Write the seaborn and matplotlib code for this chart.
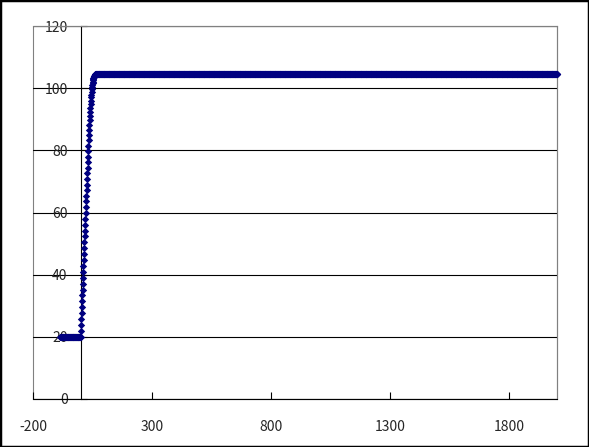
import numpy as np
import pandas as pd
import matplotlib
matplotlib.use("Agg")
import matplotlib.pyplot as plt
from matplotlib.patches import Rectangle
import seaborn as sns

sns.set_style("white")
plt.rcParams['font.family'] = ['Noto Sans CJK JP', 'DejaVu Sans']
plt.rcParams['axes.unicode_minus'] = False

# values
start_temp = 20.0
plateau_temp = 104.5
pre_x = list(range(-85, 0))
rise_x = list(range(0, 63))
rise_y = [20.0, 21.9, 23.8, 25.7, 27.6, 29.5, 31.4, 33.3, 35.2, 37.1,
          39.0, 40.9, 42.8, 44.7, 46.6, 48.5, 50.4, 52.3, 54.2, 56.1,
          58.0, 59.9, 61.8, 63.6, 65.4, 67.2, 69.0, 70.8, 72.6, 74.4,
          76.2, 78.0, 79.8, 81.5, 83.2, 84.9, 86.5, 88.1, 89.6, 91.0,
          92.4, 93.7, 94.9, 96.0, 97.0, 97.9, 98.8, 99.6, 100.3, 101.0,
          101.6, 102.1, 102.5, 102.9, 103.2, 103.5, 103.7, 103.9, 104.0, 104.1,
          104.2, 104.3, 104.4]
plateau_x = list(range(63, 2001))
x_ticks = [-200, 300, 800, 1300, 1800]
y_ticks = [0, 20, 40, 60, 80, 100, 120]

df = pd.DataFrame({
    "time": pre_x + rise_x + plateau_x,
    "temp": [start_temp] * len(pre_x) + rise_y + [plateau_temp] * len(plateau_x),
})

fig = plt.figure(figsize=(5.89, 4.47), dpi=100)
ax = fig.add_axes([33 / 589, 48 / 447, 524 / 589, 373 / 447])

ax.set_xlim(-200, 2000)
ax.set_ylim(0, 120)
ax.set_xticks(x_ticks)
ax.set_yticks(y_ticks)

ax.yaxis.grid(True, color="black", lw=0.8)
ax.xaxis.grid(False)

sns.scatterplot(data=df, x="time", y="temp", marker="D", s=14, color="#000080",
                edgecolor="#000080", linewidth=0, legend=False, clip_on=False,
                zorder=3, ax=ax)
ax.set_xlabel("")
ax.set_ylabel("")

# y axis crosses at x = 0, plot area border in gray
ax.spines["left"].set_position(("data", 0))
ax.spines["left"].set_color("black")
ax.spines["left"].set_linewidth(0.8)
ax.spines["bottom"].set_color("black")
ax.spines["bottom"].set_linewidth(0.8)
for s in ["top", "right"]:
    ax.spines[s].set_color("#808080")
    ax.spines[s].set_linewidth(0.8)
ax.patch.set_edgecolor("#808080")
ax.patch.set_linewidth(0.8)

ax.tick_params(axis="y", direction="in", length=4, width=0.8, color="black",
               pad=9.4, labelsize=10, left=True)
ax.tick_params(axis="x", direction="in", length=5, width=0.8, color="black",
               pad=15, labelsize=10, bottom=True)

fig.patches.append(Rectangle((0, 0), 1, 1, transform=fig.transFigure,
                             fill=False, edgecolor="black", lw=2.5))

fig.savefig("out.png", dpi=100)
